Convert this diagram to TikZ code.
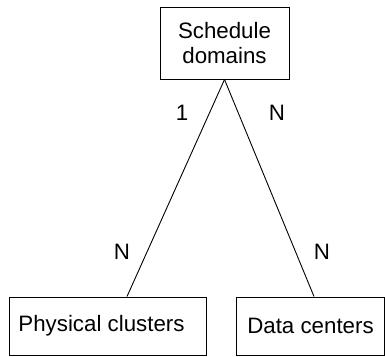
\documentclass[tikz,border=0pt]{standalone}
\usepackage{fontspec}
\setmainfont{Liberation Sans}
\begin{document}
\begin{tikzpicture}[x=1pt,y=-1pt,
  entity/.style={draw, line width=1pt, inner sep=0pt, align=center,
    font=\fontsize{22.3}{25}\selectfont},
  card/.style={inner sep=0pt, font=\fontsize{22.3}{25}\selectfont},
  link/.style={line width=0.9pt}]
  \useasboundingbox (0,0) rectangle (385,356);
  % entities
  \node[entity, minimum width=129pt, minimum height=72pt] (sd) at (224.5,43) {Schedule\\domains};
  \node[entity, minimum width=197pt, minimum height=58pt] (pc) at (107.5,326) {Physical clusters\hspace*{12pt}};
  \node[entity, minimum width=148pt, minimum height=58pt] (dc) at (310.5,326) {Data centers};
  % relationships
  \coordinate (pcend) at ([xshift=19.5pt]pc.north);
  \coordinate (dcend) at ([xshift=3.5pt]dc.north);
  \draw[link] (sd.south) -- (pcend);
  \draw[link] (sd.south) -- (dcend);
  % cardinalities
  \node[card] (c1) at (182,113) {1};
  \node[card] (c2) at (277,113) {N};
  \node[card] (c3) at (122,252) {N};
  \node[card] (c4) at (322,252) {N};
\end{tikzpicture}
\end{document}
